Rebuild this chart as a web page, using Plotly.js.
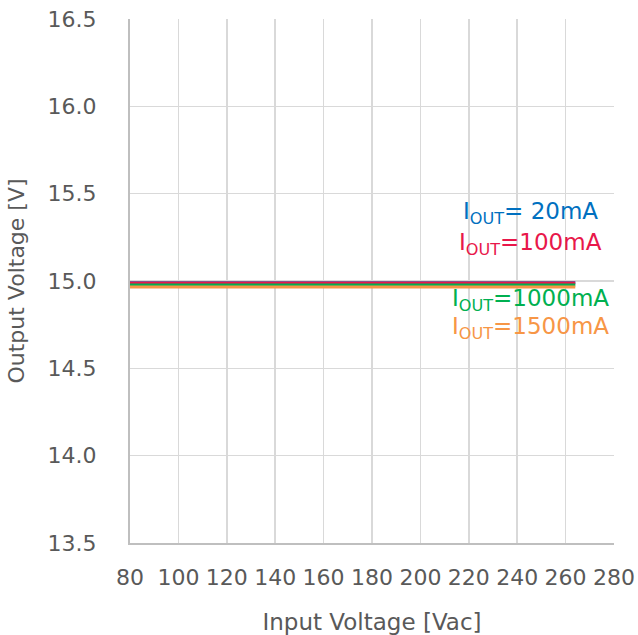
<!DOCTYPE html>
<html>
<head>
<meta charset="utf-8">
<script src="https://cdn.plot.ly/plotly-3.0.1.min.js"></script>
<style>html,body{margin:0;padding:0;background:#fff;}#chart{width:638px;height:635px;}</style>
</head>
<body>
<div id="chart"></div>
<script>
const inputVoltage = [80, 100, 120, 140, 160, 180, 200, 220, 240, 264];
const vout20mA   = [14.990, 14.990, 14.990, 14.990, 14.990, 14.990, 14.990, 14.990, 14.990, 14.990];
const vout100mA  = [14.988, 14.988, 14.988, 14.988, 14.988, 14.988, 14.988, 14.988, 14.988, 14.988];
const vout1000mA = [14.977, 14.977, 14.977, 14.977, 14.977, 14.977, 14.977, 14.977, 14.977, 14.977];
const vout1500mA = [14.966, 14.966, 14.966, 14.966, 14.966, 14.966, 14.966, 14.966, 14.966, 14.966];
const seriesNames = ['I<sub>OUT</sub>= 20mA', 'I<sub>OUT</sub>=100mA', 'I<sub>OUT</sub>=1000mA', 'I<sub>OUT</sub>=1500mA'];
const seriesColors = ['#0070C0', '#E8174A', '#00B050', '#F79646'];
const xTicks = [80, 100, 120, 140, 160, 180, 200, 220, 240, 260, 280];
const yTicks = [13.5, 14.0, 14.5, 15.0, 15.5, 16.0, 16.5];
const yTickText = ['13.5', '14.0', '14.5', '15.0', '15.5', '16.0', '16.5'];

const ys = [vout20mA, vout100mA, vout1000mA, vout1500mA];
const traces = ys.map((y, i) => ({
  x: inputVoltage, y: y, type: 'scatter', mode: 'lines',
  line: {color: seriesColors[i], width: 3},
  name: seriesNames[i], showlegend: false, hoverinfo: 'skip'
}));

const labelPos = [
  {x: 245.5, y: 15.39},
  {x: 245.5, y: 15.21},
  {x: 245.5, y: 14.89},
  {x: 245.5, y: 14.73}
];
const annotations = seriesNames.map((t, i) => ({
  x: labelPos[i].x, y: labelPos[i].y, xref: 'x', yref: 'y',
  text: t, showarrow: false, xanchor: 'center', yanchor: 'middle',
  font: {family: 'DejaVu Sans', size: 23, color: seriesColors[i]}
}));

const tickFont = {family: 'DejaVu Sans', size: 22, color: '#595959'};
const layout = {
  width: 638, height: 635,
  margin: {l: 130, r: 24, t: 19, b: 92},
  paper_bgcolor: '#ffffff', plot_bgcolor: '#ffffff',
  showlegend: false,
  xaxis: {
    range: [80, 280], tickvals: xTicks, ticktext: xTicks.map(String),
    showgrid: true, gridcolor: '#d9d9d9', gridwidth: 1.5,
    showline: true, linecolor: '#bfbfbf', linewidth: 1.5,
    zeroline: false, ticks: '', tickfont: tickFont, ticklabelstandoff: 14,
    title: {text: 'Input Voltage [Vac]', font: {family: 'DejaVu Sans', size: 23, color: '#595959'}, standoff: 25}
  },
  yaxis: {
    range: [13.5, 16.5], tickvals: yTicks, ticktext: yTickText,
    showgrid: true, gridcolor: '#d9d9d9', gridwidth: 1.5,
    showline: true, linecolor: '#bfbfbf', linewidth: 2,
    zeroline: false, ticks: '', tickfont: tickFont, ticklabelstandoff: 27,
    title: {text: 'Output Voltage [V]', font: {family: 'DejaVu Sans', size: 22, color: '#595959'}, standoff: 17}
  },
  annotations: annotations
};
Plotly.newPlot('chart', traces, layout, {displayModeBar: false, staticPlot: true});
</script>
</body>
</html>
